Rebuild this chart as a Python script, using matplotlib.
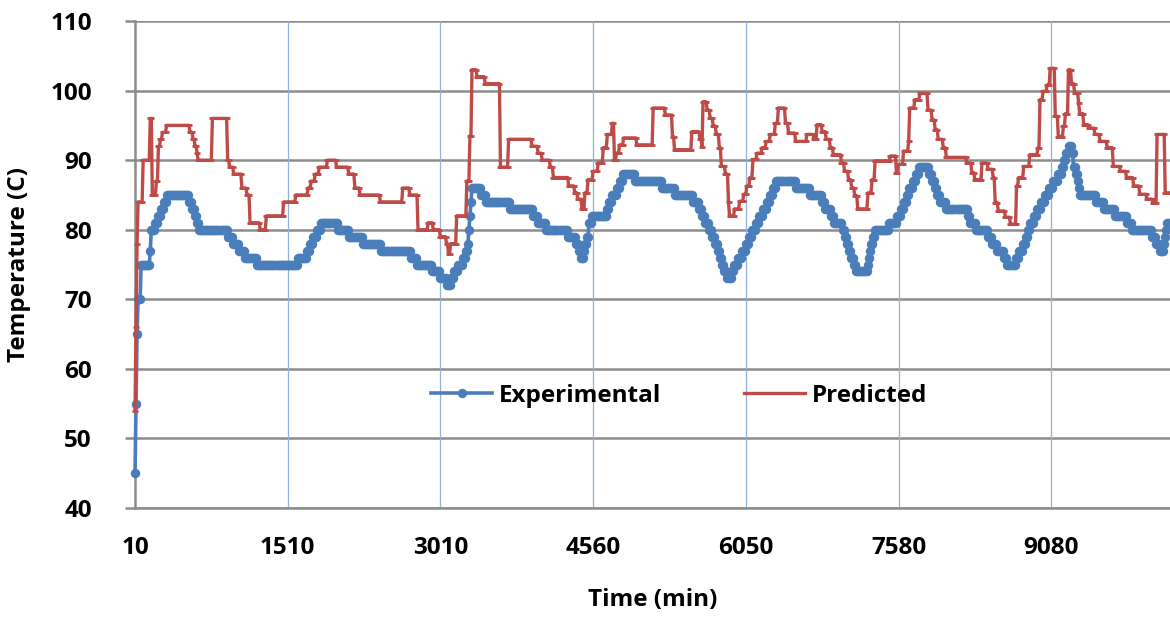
import numpy as np
import matplotlib
matplotlib.use("Agg")
import matplotlib.pyplot as plt

# ── Data (each value holds from its start sample on) ──
N_SAMPLES = 1017
TICK_POS = [0, 150, 300, 450, 600, 750, 900]
TICK_LABELS = ["10", "1510", "3010", "4560", "6050", "7580", "9080"]

exp_start = [0, 1, 2, 3, 6, 15, 16, 20, 23, 26, 28, 31, 53, 56, 59, 61, 63, 91, 96,
             102, 108, 120, 160, 169, 172, 175, 179, 183, 199, 210, 224, 242, 271,
             277, 292, 300, 306, 310, 313, 317, 322, 325, 327, 328, 329, 330, 331,
             340, 345, 368, 391, 396, 404, 425, 433, 436, 438, 441, 442, 444, 446,
             449, 464, 466, 469, 473, 476, 479, 491, 518, 530, 548, 554, 557, 560,
             564, 567, 570, 573, 575, 577, 579, 582, 586, 588, 592, 596, 600, 603,
             606, 610, 613, 617, 621, 624, 627, 630, 649, 663, 675, 678, 684, 687,
             695, 697, 699, 701, 703, 706, 708, 720, 721, 722, 723, 725, 727, 741,
             749, 752, 755, 758, 760, 764, 767, 770, 780, 783, 786, 788, 791, 797,
             818, 820, 826, 838, 842, 847, 854, 857, 865, 868, 872, 875, 877, 879,
             883, 886, 890, 894, 898, 902, 907, 911, 913, 915, 917, 920, 922, 924,
             926, 927, 928, 944, 952, 963, 974, 979, 999, 1003, 1007, 1011, 1012,
             1013, 1014]
exp_temp = [45, 55, 65, 70, 75, 77, 80, 81, 82, 83, 84, 85, 84, 83, 82, 81, 80, 79, 78,
            77, 76, 75, 76, 77, 78, 79, 80, 81, 80, 79, 78, 77, 76,
            75, 74, 73, 72, 73, 74, 75, 76, 77, 78, 80, 82, 84, 86,
            85, 84, 83, 82, 81, 80, 79, 78, 77, 76, 77, 78, 79, 81,
            82, 83, 84, 85, 86, 87, 88, 87, 86, 85, 84, 83, 82, 81,
            80, 79, 78, 77, 76, 75, 74, 73, 74, 75, 76, 77, 78, 79,
            80, 81, 82, 83, 84, 85, 86, 87, 86, 85, 84, 83, 82, 81,
            80, 79, 78, 77, 76, 75, 74, 75, 76, 77, 78, 79, 80, 81,
            82, 83, 84, 85, 86, 87, 88, 89, 88, 87, 86, 85, 84, 83,
            82, 81, 80, 79, 78, 77, 76, 75, 76, 77, 78, 79, 80, 81,
            82, 83, 84, 85, 86, 87, 88, 89, 90, 91, 92, 91, 89, 88,
            87, 86, 85, 84, 83, 82, 81, 80, 79, 78, 77, 78, 79,
            80, 81]

pred_start = [0, 1, 2, 3, 8, 15, 17, 21, 23, 25, 27, 31, 54, 57, 59, 61, 62, 76, 91,
              93, 97, 105, 110, 113, 123, 129, 146, 158, 170, 173, 177, 181, 189,
              198, 210, 216, 221, 241, 263, 270, 278, 288, 293, 300, 306, 308, 310,
              316, 326, 329, 331, 336, 344, 359, 367, 390, 396, 400, 408, 411, 426,
              432, 435, 439, 442, 445, 450, 455, 460, 464, 469, 471, 473, 476, 480,
              493, 509, 521, 528, 530, 547, 555, 557, 558, 562, 565, 568, 571, 574,
              576, 580, 583, 584, 589, 594, 598, 601, 604, 607, 611, 616, 620, 624,
              629, 632, 639, 642, 649, 660, 667, 670, 675, 679, 683, 686, 694, 697,
              701, 704, 707, 710, 720, 724, 727, 742, 748, 750, 755, 760, 761, 766,
              771, 779, 783, 786, 789, 794, 797, 817, 822, 825, 832, 838, 843, 845,
              848, 855, 860, 866, 868, 873, 879, 887, 889, 892, 896, 899, 904, 907,
              912, 914, 917, 920, 923, 927, 928, 932, 937, 943, 948, 955, 961, 968,
              974, 981, 987, 994, 1000, 1004, 1012]
pred_temp = [54, 66, 78, 84, 90, 96, 85, 87, 92, 93, 94, 95, 94, 93, 92, 91, 90, 96, 90,
             89, 88, 86, 85, 81, 80, 82, 84, 85, 86, 87, 88, 89, 90,
             89, 88, 86, 85, 84, 86, 85, 80, 81, 80, 79, 78, 76.5, 78,
             82, 87, 93.5, 103, 102, 101, 89, 93, 92, 91, 90, 89, 87.5, 86.3,
             85.3, 84.4, 83, 85.3, 87.2, 88.4, 89.6, 91.8, 93.7, 95.3, 90, 91, 92.2, 93.2,
             92.2, 97.5, 96.5, 93.4, 91.5, 94.1, 93, 91.9, 98.4, 97.2, 96, 94.9, 93.7, 91.8,
             89.1, 88, 84, 82, 83, 84.1, 85.1, 86.3, 87.5, 90.1, 91, 91.8, 92.7, 93.7,
             95.3, 97.5, 95.3, 93.9, 92.7, 93.7, 93, 95.1, 94.1, 93, 91.8, 90.8, 89.6, 88.4,
             87.2, 86, 84.9, 83, 85.3, 87.2, 89.9, 90.6, 88.2, 89.4, 91.3, 92.7, 97.5, 98.7,
             99.6, 97.2, 95.8, 94.4, 93, 91.8, 90.4, 89.6, 88.2, 87.2, 89.6, 88.7, 87.5, 83.9,
             82.7, 81.8, 80.8, 86.3, 87.5, 89.1, 90.8, 91.8, 98.7, 99.9, 100.8, 103.2, 96.3, 93.4,
             94.9, 96.7, 103, 101, 99.6, 98.2, 96.7, 95.1, 94.6, 93.7, 92.7, 91.8, 89.1, 88.4,
             87.5, 86.3, 85.1, 84.4, 83.9, 93.7, 85.3]


def expand(starts, values, n):
    runs = np.diff(list(starts) + [n])
    return np.repeat(values, runs)


experimental = expand(exp_start, exp_temp, N_SAMPLES)
predicted = expand(pred_start, pred_temp, N_SAMPLES)
x = np.arange(N_SAMPLES)

# ── Plot ──────────────────────────────────────────────────────────────────────
plt.rcParams["font.family"] = ["Open Sans", "DejaVu Sans"]
plt.rcParams["font.weight"] = "bold"

BLUE = "#4a7ebb"
RED = "#be4b48"
GRID = "#8c8c8c"
FS = 17.5

fig = plt.figure(figsize=(11.70, 6.24), dpi=100)
ax = fig.add_axes([0.1154, 0.1859, 0.8846, 0.7804])

ax.plot(x, experimental, color=BLUE, linewidth=2.6, marker="o", markersize=6.8,
        markeredgewidth=0, label="Experimental", zorder=3, clip_on=False)
ax.plot(x, predicted, color=RED, linewidth=2.4, marker="_", markersize=5,
        markeredgewidth=2.0, label="Predicted", zorder=4, clip_on=False)

for p in TICK_POS[1:]:
    ax.axvline(p, color="#8fb1dc", linewidth=0.9, zorder=1)

ax.set_xlim(0, 1016.7)
ax.set_ylim(40, 110)
ax.set_yticks(np.arange(40, 111, 10))
ax.set_xticks(TICK_POS)
ax.set_xticklabels(TICK_LABELS)
ax.yaxis.grid(True, color=GRID, linewidth=1.8, zorder=0)
ax.set_axisbelow(True)

for side in ("top", "right"):
    ax.spines[side].set_visible(False)
for side in ("left", "bottom"):
    ax.spines[side].set_color(GRID)
    ax.spines[side].set_linewidth(1.8)

ax.tick_params(axis="y", length=7, width=1.8, color=GRID, pad=24, labelsize=FS)
ax.tick_params(axis="x", length=0, pad=20, labelsize=FS)

ax.set_xlabel("Time (min)", fontsize=FS, fontweight="bold", labelpad=20)
ax.set_ylabel("Temperature (C)", fontsize=FS, fontweight="bold", labelpad=14)

leg = ax.legend(loc="center", bbox_to_anchor=(0.526, 0.230), ncol=2, frameon=False,
                fontsize=FS, handlelength=2.5, columnspacing=3.4, handletextpad=0.3)
for h in leg.legend_handles:
    h.set_markevery([1])

fig.savefig("out.png", dpi=100)
